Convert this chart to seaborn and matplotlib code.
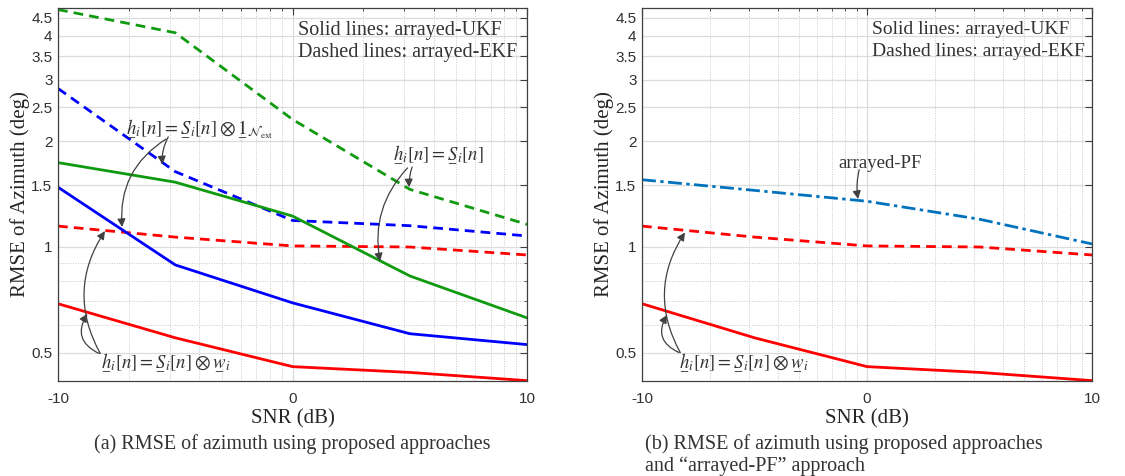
import matplotlib
matplotlib.use("Agg")
import matplotlib.pyplot as plt
import numpy as np
import pandas as pd
import seaborn as sns

# ---------------- data ----------------
snr = [-10, -5, 0, 5, 10]

ukf_w = [0.689, 0.551, 0.456, 0.439, 0.416]     # red solid
ukf_1 = [1.48, 0.889, 0.693, 0.566, 0.527]      # blue solid
ukf_s = [1.74, 1.53, 1.225, 0.827, 0.628]       # green solid
ekf_w = [1.147, 1.067, 1.007, 1.0, 0.949]       # red dashed
ekf_1 = [2.83, 1.64, 1.19, 1.15, 1.075]         # blue dashed
ekf_s = [4.75, 4.08, 2.31, 1.46, 1.16]          # green dashed
pf = [1.555, 1.45, 1.35, 1.20, 1.02]            # dash-dot

yticks = [0.5, 1, 1.5, 2, 2.5, 3, 3.5, 4, 4.5]
ytick_labels = ["0.5", "1", "1.5", "2", "2.5", "3", "3.5", "4", "4.5"]

RED = "#ff0000"
BLUE = "#0000ff"
GREEN = "#109a10"
PFBLUE = "#0072bd"

sns.set_style("white")
plt.rcParams["font.family"] = ["Liberation Serif", "DejaVu Serif"]
plt.rcParams["mathtext.fontset"] = "stix"

fig = plt.figure(figsize=(11.25, 4.76), dpi=100)
ax1 = fig.add_axes([0.0516, 0.1996, 0.4169, 0.7836])
ax2 = fig.add_axes([0.5707, 0.1996, 0.4000, 0.7836])

DASH = (3.5, 2.2)
DASHDOT = (5, 1.6, 1.2, 1.6)


def draw(ax, y, color, dashes=None):
    sns.lineplot(x=snr, y=y, ax=ax, color=color, lw=2)
    line = ax.lines[-1]
    if dashes is not None:
        line.set_dashes(dashes)


# left panel
draw(ax1, ekf_s, GREEN, DASH)
draw(ax1, ekf_1, BLUE, DASH)
draw(ax1, ekf_w, RED, DASH)
draw(ax1, ukf_s, GREEN)
draw(ax1, ukf_1, BLUE)
draw(ax1, ukf_w, RED)

# right panel
draw(ax2, pf, PFBLUE, DASHDOT)
draw(ax2, ekf_w, RED, DASH)
draw(ax2, ukf_w, RED)

xminor = [-10 + 10 * np.log10(k) for k in range(2, 10)] + [10 * np.log10(k) for k in range(2, 10)]

for ax, fs in ((ax1, 14.5), (ax2, 14)):
    ax.set_yscale("log")
    ax.set_xlim(-10, 10)
    ax.set_ylim(0.415, 4.8)
    ax.set_xticks([-10, 0, 10])
    ax.set_xticklabels(["-10", "0", "10"], family=["Liberation Sans", "DejaVu Sans"], fontsize=11)
    ax.set_xticks(xminor, minor=True)
    ax.set_yticks(yticks)
    ax.set_yticklabels(ytick_labels, family=["Liberation Sans", "DejaVu Sans"], fontsize=11)
    ax.set_yticks([0.6, 0.7, 0.8, 0.9], minor=True)
    ax.yaxis.set_minor_formatter(matplotlib.ticker.NullFormatter())
    ax.grid(True, which="major", color="#dcdcdc", lw=0.9, ls="-")
    ax.grid(True, which="minor", color="#c8c8c8", lw=0.7, ls=(0, (1, 1.5)))
    ax.set_axisbelow(True)
    ax.tick_params(which="both", direction="in", top=True, right=True, color="#404040",
                   labelcolor="#303030")
    ax.tick_params(which="major", length=5)
    ax.tick_params(axis="y", which="major", pad=4)
    ax.tick_params(axis="x", which="major", pad=8)
    ax.tick_params(which="minor", length=2.5)
    for s in ax.spines.values():
        s.set_color("#404040")
        s.set_linewidth(0.9)
    ax.set_xlabel("SNR (dB)", fontsize=15, labelpad=2)
    ax.set_ylabel("RMSE of Azimuth (deg)", fontsize=15, labelpad=1)
    ax.text(0.511, 0.965, "Solid lines: arrayed-UKF", transform=ax.transAxes,
            fontsize=fs, va="top", ha="left", color="#333333")
    ax.text(0.511, 0.905, "Dashed lines: arrayed-EKF", transform=ax.transAxes,
            fontsize=fs, va="top", ha="left", color="#333333")

ARR = dict(arrowstyle="-|>", color="#404040", lw=0.9, mutation_scale=12,
           shrinkA=0, shrinkB=0)
# mathtext has no \underline, so the underbars are put in with \underset
U = lambda s: r"\underset{-}{%s}" % s
lbl_w = r"$%s_i[n] = %s_i[n] \otimes %s_i$" % (U("h"), U("S"), U("w"))
lbl_1 = r"$%s_i[n] = %s_i[n] \otimes %s_{\mathcal{N}_{\rm ext}}$" % (U("h"), U("S"), U("1"))
lbl_s = r"$%s_i[n] = %s_i[n]$" % (U("h"), U("S"))
TXT = dict(fontsize=13.5, color="#333333")

# left annotations
ax1.text(-3.95, 2.19, lbl_1, ha="center", va="center", **TXT)
ax1.annotate("", xy=(-5.55, 1.72), xytext=(-5.3, 2.06),
             arrowprops=dict(ARR, connectionstyle="arc3,rad=0.15"))
ax1.annotate("", xy=(-7.27, 1.14), xytext=(-5.4, 2.03),
             arrowprops=dict(ARR, connectionstyle="arc3,rad=0.3"))

ax1.text(6.2, 1.84, lbl_s, ha="center", va="center", **TXT)
ax1.annotate("", xy=(4.97, 1.48), xytext=(5.1, 1.69),
             arrowprops=dict(ARR, connectionstyle="arc3,rad=0.1"))
ax1.annotate("", xy=(3.73, 0.91), xytext=(4.9, 1.68),
             arrowprops=dict(ARR, connectionstyle="arc3,rad=0.25"))

ax1.text(-5.4, 0.47, lbl_w, ha="center", va="center", **TXT)
ax1.annotate("", xy=(-8.0, 1.11), xytext=(-8.2, 0.497),
             arrowprops=dict(ARR, connectionstyle="arc3,rad=-0.3"))
ax1.annotate("", xy=(-8.75, 0.645), xytext=(-8.25, 0.497),
             arrowprops=dict(ARR, connectionstyle="arc3,rad=-0.55"))

# right annotations
ax2.text(0.58, 1.73, "arrayed-PF", ha="center", va="center", **TXT)
ax2.annotate("", xy=(-0.4, 1.37), xytext=(-0.35, 1.66),
             arrowprops=dict(ARR, connectionstyle="arc3,rad=0.1"))

ax2.text(-5.47, 0.47, lbl_w, ha="center", va="center", **TXT)
ax2.annotate("", xy=(-8.09, 1.10), xytext=(-8.3, 0.50),
             arrowprops=dict(ARR, connectionstyle="arc3,rad=-0.3"))
ax2.annotate("", xy=(-8.89, 0.64), xytext=(-8.35, 0.50),
             arrowprops=dict(ARR, connectionstyle="arc3,rad=-0.55"))

# captions
fig.text(0.2597, 1 - 444 / 476, "(a) RMSE of azimuth using proposed approaches",
         ha="center", va="center", fontsize=14.5, color="#333333")
fig.text(0.5733, 1 - 444 / 476, "(b) RMSE of azimuth using proposed approaches",
         ha="left", va="center", fontsize=14.5, color="#333333")
fig.text(0.5733, 1 - 466 / 476, "and \u201carrayed-PF\u201d approach",
         ha="left", va="center", fontsize=14.5, color="#333333")

fig.savefig("out.png", dpi=100)
